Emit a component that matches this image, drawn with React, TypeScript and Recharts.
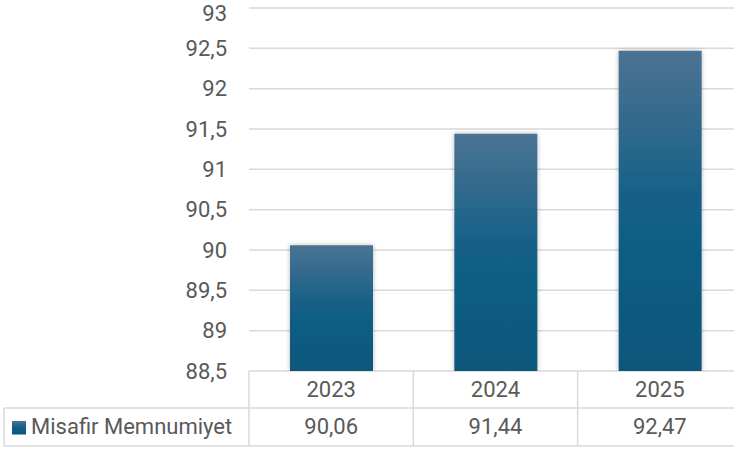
import React from 'react';
import { BarChart, Bar, XAxis, YAxis, CartesianGrid } from 'recharts';

const categories: string[] = ['2023', '2024', '2025'];
const values: number[] = [90.06, 91.44, 92.47];
const yTicks: number[] = [88.5, 89, 89.5, 90, 90.5, 91, 91.5, 92, 92.5, 93];
const seriesName = 'Misafir Memnumiyet';

const data = categories.map((c, i) => ({ year: c, value: values[i] }));

const VIEW_W = 734;
const W = 742;
const H = 453;
const Y_AXIS_W = 249;
const X_AXIS_H = 82;
const TOP = 8;
const PLOT_BOTTOM = H - X_AXIS_H;
const ROW1_BOTTOM = 408;
const ROW2_BOTTOM = 446;
const TEXT = '#595959';
const LINE = '#d9d9d9';
const FONT = 22;

const fmt = (v: number) => String(v).replace('.', ',');

const TableTick = (props: any) => {
  const { x, payload, index } = props;
  const bw = (W - Y_AXIS_W) / categories.length;
  const left = x - bw / 2;
  const right = x + bw / 2;
  const i = payload.index ?? index;
  return (
    <g>
      <line x1={left} y1={PLOT_BOTTOM} x2={left} y2={ROW2_BOTTOM} stroke={LINE} strokeWidth={1.5} />
      <line x1={left} y1={ROW1_BOTTOM} x2={right} y2={ROW1_BOTTOM} stroke={LINE} strokeWidth={1.5} />
      <line x1={left} y1={ROW2_BOTTOM} x2={right} y2={ROW2_BOTTOM} stroke={LINE} strokeWidth={1.5} />
      <text x={x} y={397} textAnchor="middle" fill={TEXT} fontSize={FONT}>{payload.value}</text>
      <text x={x} y={434} textAnchor="middle" fill={TEXT} fontSize={FONT}>{fmt(values[i])}</text>
      {i === 0 && (
        <g>
          <line x1={4} y1={ROW1_BOTTOM} x2={left} y2={ROW1_BOTTOM} stroke={LINE} strokeWidth={1.5} />
          <line x1={4} y1={ROW2_BOTTOM} x2={left} y2={ROW2_BOTTOM} stroke={LINE} strokeWidth={1.5} />
          <line x1={4} y1={ROW1_BOTTOM} x2={4} y2={ROW2_BOTTOM} stroke={LINE} strokeWidth={1.5} />
          <rect x={12} y={421} width={14} height={13.5} fill="url(#barGrad)" />
          <text x={31} y={434} textAnchor="start" fill={TEXT} fontSize={FONT}>{seriesName}</text>
        </g>
      )}
    </g>
  );
};

export default function App() {
  return (
    <div
      style={{
        position: 'absolute',
        left: 0,
        top: 0,
        width: VIEW_W,
        height: H,
        overflow: 'hidden',
        fontFamily: 'Roboto, sans-serif',
      }}
    >
      <BarChart width={W} height={H} data={data} margin={{ top: TOP, right: 0, left: 0, bottom: 0 }}>
        <defs>
          <linearGradient id="barGrad" x1="0" y1="0" x2="0" y2="1">
            <stop offset="0%" stopColor="#4c7393" />
            <stop offset="50%" stopColor="#125f86" />
            <stop offset="100%" stopColor="#0b577a" />
          </linearGradient>
          <filter id="barShadow" x="-20%" y="-5%" width="140%" height="110%">
            <feDropShadow dx="0" dy="0" stdDeviation="2.5" floodColor="#000" floodOpacity="0.28" />
          </filter>
        </defs>
        <CartesianGrid vertical={false} stroke={LINE} strokeWidth={1.5} />
        <XAxis
          dataKey="year"
          height={X_AXIS_H}
          axisLine={false}
          tickLine={false}
          tick={<TableTick />}
          interval={0}
        />
        <YAxis
          width={Y_AXIS_W}
          domain={[88.5, 93]}
          ticks={yTicks}
          axisLine={false}
          tickLine={false}
          tickSize={0}
          tickMargin={22}
          tickFormatter={fmt}
          tick={{ fill: TEXT, fontSize: FONT }}
          allowDataOverflow
        />
        <Bar
          dataKey="value"
          name={seriesName}
          fill="url(#barGrad)"
          barSize={83}
          filter="url(#barShadow)"
          isAnimationActive={false}
        />
      </BarChart>
    </div>
  );
}
